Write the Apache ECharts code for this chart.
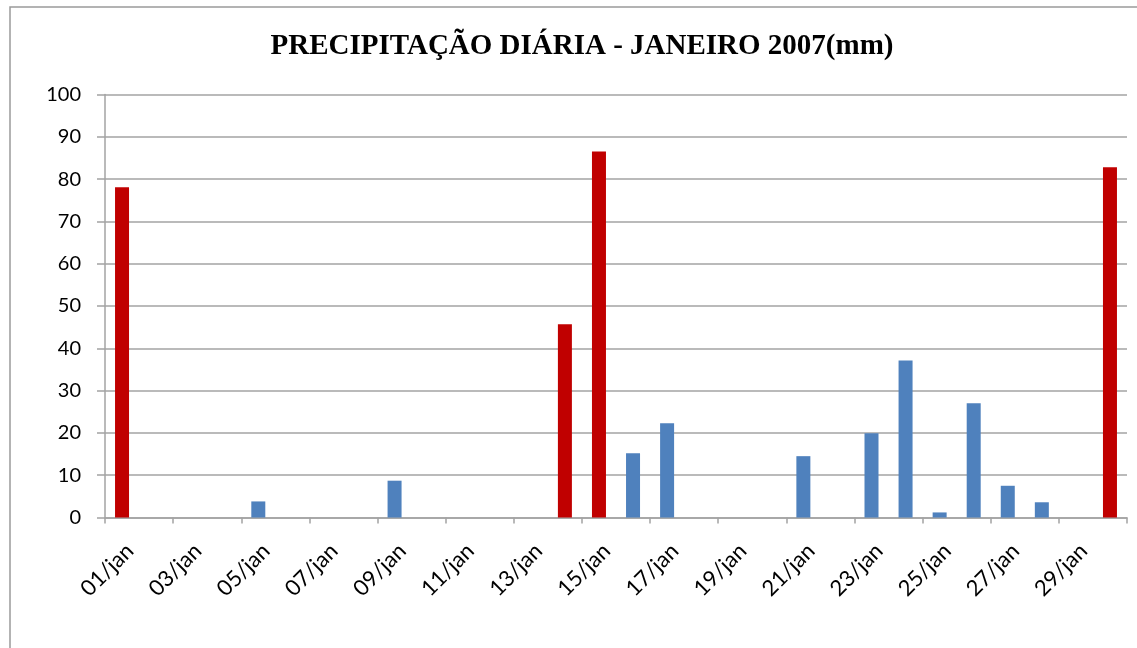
<!DOCTYPE html>
<html>
<head>
<meta charset="utf-8">
<script src="https://cdn.jsdelivr.net/npm/echarts@6/dist/echarts.min.js"></script>
<style>
  html, body { margin: 0; padding: 0; background: #fff; }
  #chart { width: 1137px; height: 648px; }
</style>
</head>
<body>
<div id="chart"></div>
<script>
// Dias de janeiro de 2007
const dias = [
  '01/jan', '02/jan', '03/jan', '04/jan', '05/jan', '06/jan', '07/jan', '08/jan',
  '09/jan', '10/jan', '11/jan', '12/jan', '13/jan', '14/jan', '15/jan', '16/jan',
  '17/jan', '18/jan', '19/jan', '20/jan', '21/jan', '22/jan', '23/jan', '24/jan',
  '25/jan', '26/jan', '27/jan', '28/jan', '29/jan', '30/jan'
];

// Precipitação diária (mm)
const precipitacao = [
  78.1, 0, 0, 0, 3.8, 0, 0, 0,
  8.7, 0, 0, 0, 0, 45.7, 86.5, 15.2,
  22.3, 0, 0, 0, 14.5, 0, 19.9, 37.1,
  1.2, 27.0, 7.5, 3.6, 0, 82.8
];

// Escala do eixo vertical
const eixoY = { min: 0, max: 100, intervalo: 10 };

// Dias com chuva intensa aparecem em vermelho
const LIMIAR_INTENSO = 40;
const COR_NORMAL = '#4F81BD';
const COR_INTENSA = '#C00000';

const cinza = '#a3a3a3';
const fonteEixo = 'Lato, "Open Sans", sans-serif';

const chart = echarts.init(document.getElementById('chart'), null, { renderer: 'canvas' });

chart.setOption({
  backgroundColor: '#ffffff',
  animation: false,
  title: {
    text: 'PRECIPITAÇÃO DIÁRIA - JANEIRO 2007(mm)',
    left: 577,
    textAlign: 'center',
    top: 27,
    textStyle: {
      fontFamily: '"Liberation Serif", "Times New Roman", serif',
      fontWeight: 'bold',
      fontSize: 29,
      color: '#000'
    }
  },
  graphic: [{
    type: 'rect',
    z: -10,
    silent: true,
    shape: { x: 10, y: 7, width: 1200, height: 700 },
    style: { fill: 'none', stroke: '#9a9a9a', lineWidth: 1.5 }
  }],
  grid: { left: 105, right: 10, top: 94.5, bottom: 130.5, containLabel: false },
  xAxis: {
    type: 'category',
    data: dias,
    boundaryGap: true,
    axisLine: { show: true, lineStyle: { color: cinza, width: 1.5 } },
    axisTick: { show: true, interval: 1, length: 6, lineStyle: { color: cinza, width: 1.5 } },
    axisLabel: {
      interval: 1,
      rotate: 45,
      margin: 22,
      verticalAlign: 'top',
      fontFamily: fonteEixo,
      fontSize: 22,
      color: '#000'
    },
    splitLine: { show: false }
  },
  yAxis: {
    type: 'value',
    min: eixoY.min,
    max: eixoY.max,
    interval: eixoY.intervalo,
    axisLine: { show: true, lineStyle: { color: cinza, width: 1.5 } },
    axisTick: { show: true, length: 8, lineStyle: { color: cinza, width: 1.5 } },
    axisLabel: {
      margin: 24,
      fontFamily: fonteEixo,
      fontSize: 20,
      color: '#000'
    },
    splitLine: { show: true, lineStyle: { color: cinza, width: 1.5 } }
  },
  series: [{
    type: 'bar',
    data: precipitacao,
    barWidth: 14,
    itemStyle: {
      color: p => (p.value >= LIMIAR_INTENSO ? COR_INTENSA : COR_NORMAL)
    }
  }]
});
</script>
</body>
</html>
